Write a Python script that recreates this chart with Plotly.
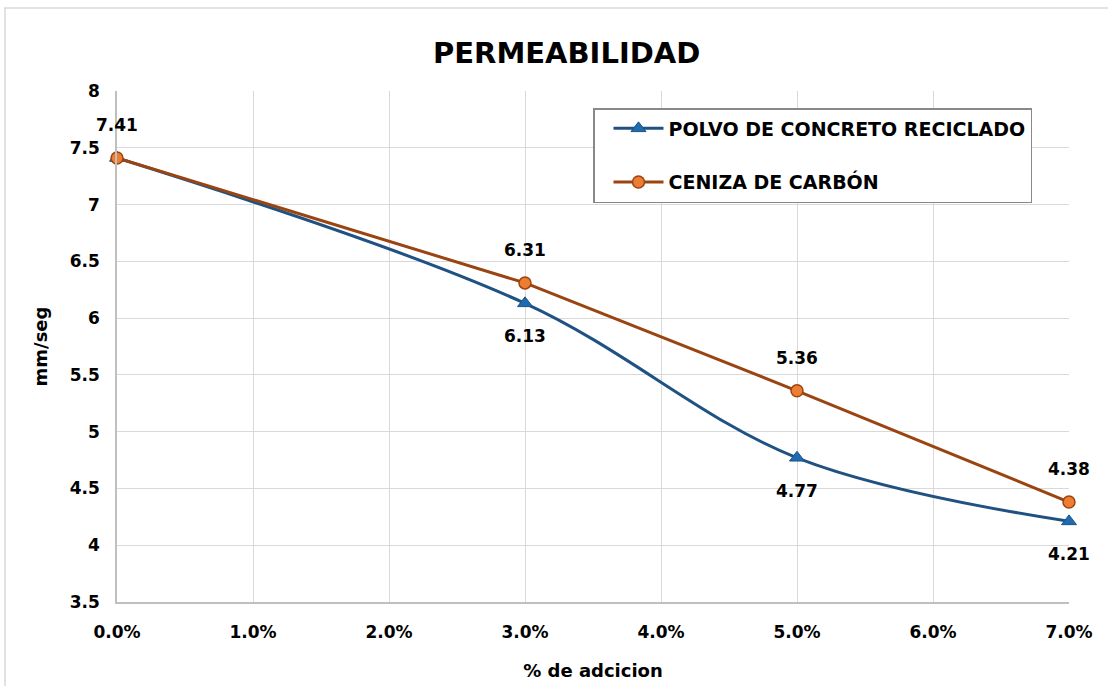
import plotly.graph_objects as go

adicion = [0.0, 0.03, 0.05, 0.07]
polvo = [7.41, 6.13, 4.77, 4.21]
ceniza = [7.41, 6.31, 5.36, 4.38]
polvo_labels = ["", "6.13", "4.77", "4.21"]
ceniza_labels = ["7.41", "6.31", "5.36", "4.38"]
name_polvo = "POLVO DE CONCRETO RECICLADO"
name_ceniza = "CENIZA DE CARBÓN"

FONT = "DejaVu Sans, Verdana, sans-serif"
BLUE_LINE = "#1F5283"
BLUE_MK = "#1F6BB0"
ORANGE_LINE = "#9A4511"
ORANGE_MK = "#ED7D31"

# plot-area pixel box (page coordinates)
L, R, T, B = 117, 1069, 91, 602
def px(xp): return (xp - L) / (R - L)
def py(yp): return (B - yp) / (B - T)

fig = go.Figure()
fig.add_trace(go.Scatter(
    x=adicion, y=polvo, name="<b>" + name_polvo + "</b>", mode="lines+markers",
    line=dict(color=BLUE_LINE, width=3, shape="spline", smoothing=1.0),
    marker=dict(symbol="triangle-up", size=13, color=BLUE_MK,
                line=dict(color=BLUE_LINE, width=1)),
    legendgroup="a", cliponaxis=False,
))
fig.add_trace(go.Scatter(
    x=adicion, y=ceniza, name="<b>" + name_ceniza + "</b>", mode="lines+markers",
    line=dict(color=ORANGE_LINE, width=3),
    marker=dict(symbol="circle", size=12, color=ORANGE_MK,
                line=dict(color=ORANGE_LINE, width=1.5)),
    legendgroup="b", cliponaxis=False,
))

lab_font = dict(family=FONT, size=17, color="#000000")
annotations = []
for xv, yv, t in zip(adicion, polvo, polvo_labels):
    if t:
        annotations.append(dict(x=xv, y=yv, text="<b>" + t + "</b>", showarrow=False,
                                yshift=-33, font=lab_font, xref="x", yref="y"))
for xv, yv, t in zip(adicion, ceniza, ceniza_labels):
    annotations.append(dict(x=xv, y=yv, text="<b>" + t + "</b>", showarrow=False,
                            yshift=33, font=lab_font, xref="x", yref="y"))

annotations.append(dict(text="<b>PERMEABILIDAD</b>", x=px(566), y=py(53),
                        xref="paper", yref="paper", showarrow=False,
                        xanchor="center", yanchor="middle",
                        font=dict(family=FONT, size=29, color="#000000")))

fig.update_layout(
    width=1108, height=686,
    margin=dict(l=L, r=1108 - R, t=T, b=686 - B, autoexpand=False),
    paper_bgcolor="white", plot_bgcolor="white",
    font=dict(family=FONT, color="#000000"),
    showlegend=True,
    legend=dict(x=px(593), y=py(108), xanchor="left", yanchor="top",
                bordercolor="#888888", borderwidth=1.5, bgcolor="white",
                font=dict(family=FONT, size=19, color="#000000"),
                tracegroupgap=26, traceorder="grouped", itemwidth=50,
                indentation=14),
    annotations=annotations,
    xaxis=dict(range=[0, 0.07], dtick=0.01, tick0=0, tickformat=".1%",
               tickprefix="<b>", ticksuffix="</b>", automargin=False,
               showgrid=True, gridcolor="#D9D9D9", gridwidth=1,
               showline=True, linecolor="#BFBFBF", linewidth=1.5,
               zeroline=False, ticks="", ticklabelstandoff=14,
               tickfont=dict(family=FONT, size=17, color="#000000"),
               title=dict(text="<b>% de adcicion</b>", font=dict(family=FONT, size=18), standoff=23)),
    yaxis=dict(range=[3.5, 8], dtick=0.5, tick0=3.5,
               tickprefix="<b>", ticksuffix="</b>", automargin=False,
               showgrid=True, gridcolor="#D9D9D9", gridwidth=1,
               showline=True, linecolor="#BFBFBF", linewidth=1.5,
               zeroline=False, ticks="", ticklabelstandoff=12,
               tickfont=dict(family=FONT, size=17, color="#000000"),
               title=dict(text="<b>mm/seg</b>", font=dict(family=FONT, size=18), standoff=17)),
    shapes=[dict(type="rect", xref="paper", yref="paper",
                 x0=px(5), x1=px(1112), y0=py(690), y1=py(8),
                 line=dict(color="#D9D9D9", width=1.5), fillcolor="rgba(0,0,0,0)", layer="below")],
)

fig.write_html("out.html", config={"displayModeBar": False},
               post_script="document.body.style.margin='0';")
